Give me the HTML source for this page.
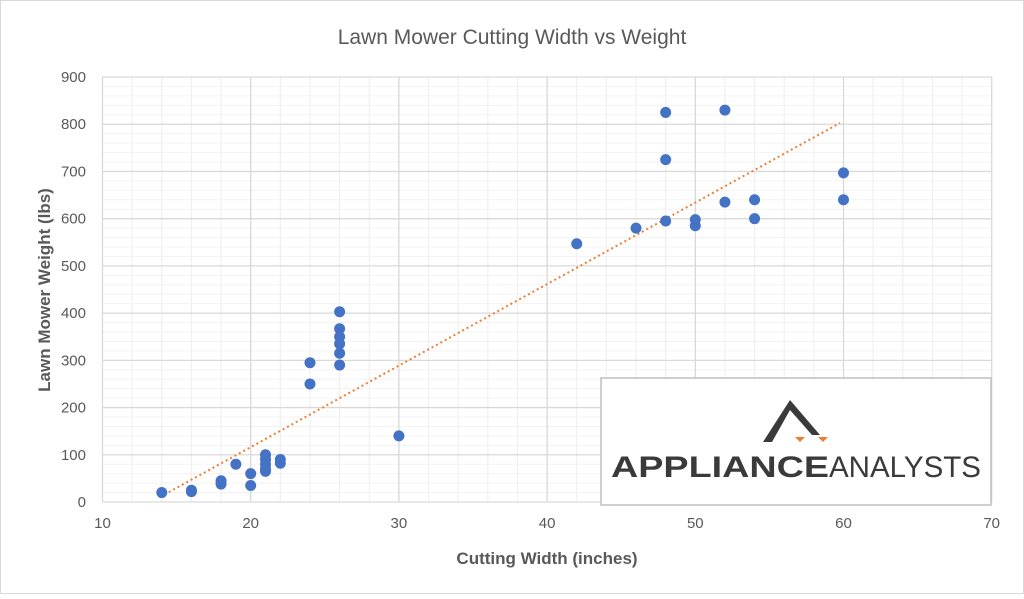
<!DOCTYPE html>
<html><head><style>
body{margin:0;background:#fff;}
svg text{font-family:"Liberation Sans",Arial,sans-serif;}
</style></head><body>
<svg width="1024" height="594" xmlns="http://www.w3.org/2000/svg">
<rect x="0.5" y="0.5" width="1023" height="593" fill="#fff" stroke="#d9d9d9"/>
<text x="512" y="44" text-anchor="middle" font-size="21" fill="#595959">Lawn Mower Cutting Width vs Weight</text>
<g id="grid"></g>
<g font-size="15" fill="#595959" text-anchor="end" id="ylab"></g>
<g font-size="15" fill="#595959" text-anchor="middle" id="xlab"></g>
<line x1="160" y1="497" x2="840" y2="123" stroke="#ed7d31" stroke-width="2" stroke-dasharray="2,3"/>
<g id="pts" fill="#4472c4"></g>
<rect x="601" y="378" width="390" height="127" fill="#fff" stroke="#bfbfbf" stroke-width="1.5"/>
<polygon points="763,442 790,400 820,435 812,435 790,410 772,442" fill="#3a3a3a"/>
<polygon points="795,437 805,437 800,442" fill="#ed7d31"/>
<polygon points="818,437 828,437 823,442" fill="#ed7d31"/>
<text x="611" y="477" font-size="30" fill="#3a3a3a" font-weight="bold" textLength="218" lengthAdjust="spacingAndGlyphs">APPLIANCE</text>
<text x="829" y="477" font-size="30" fill="#3a3a3a" textLength="152" lengthAdjust="spacingAndGlyphs">ANALYSTS</text>
<text x="547" y="564" text-anchor="middle" font-size="17" font-weight="bold" fill="#595959">Cutting Width (inches)</text>
<text transform="translate(50,290) rotate(-90)" text-anchor="middle" font-size="17" font-weight="bold" fill="#595959">Lawn Mower Weight (lbs)</text>
</svg>
<script>
const ns="http://www.w3.org/2000/svg";
const X=v=>102.5+(v-10)*14.82, Y=v=>502-v*0.4722;
const g=document.getElementById('grid');
function ln(x1,y1,x2,y2,c,w){const l=document.createElementNS(ns,'line');l.setAttribute('x1',x1);l.setAttribute('y1',y1);l.setAttribute('x2',x2);l.setAttribute('y2',y2);l.setAttribute('stroke',c);l.setAttribute('stroke-width',w);g.appendChild(l);}
for(let v=0;v<=900;v+=20){if(v%100)ln(X(10),Y(v),X(70),Y(v),'#f3f3f3',1);}
for(let v=10;v<=70;v+=2){if(v%10)ln(X(v),Y(0),X(v),Y(900),'#f0f0f0',1.2);}
for(let v=0;v<=900;v+=100)ln(X(10),Y(v),X(70),Y(v),'#d9d9d9',1.3);
for(let v=10;v<=70;v+=10)ln(X(v),Y(0),X(v),Y(900),'#d9d9d9',1.3);
const yl=document.getElementById('ylab');
for(let v=0;v<=900;v+=100){const t=document.createElementNS(ns,'text');t.setAttribute('x',86);t.setAttribute('y',Y(v)+5);t.textContent=v;yl.appendChild(t);}
const xl=document.getElementById('xlab');
for(let v=10;v<=70;v+=10){const t=document.createElementNS(ns,'text');t.setAttribute('x',X(v));t.setAttribute('y',528);t.textContent=v;xl.appendChild(t);}
const d=[[14,20],[16,25],[16,22],[18,45],[18,38],[19,80],[20,60],[20,35],[21,100],[21,90],[21,80],[21,70],[21,65],[22,90],[22,82],[24,295],[24,250],[26,403],[26,367],[26,350],[26,335],[26,315],[26,290],[30,140],[42,547],[46,580],[48,825],[48,725],[48,595],[50,598],[50,585],[52,830],[52,635],[54,640],[54,600],[60,697],[60,640]];
const p=document.getElementById('pts');
d.forEach(([a,b])=>{const c=document.createElementNS(ns,'circle');c.setAttribute('cx',X(a));c.setAttribute('cy',Y(b));c.setAttribute('r',5.5);p.appendChild(c);});
</script>
</body></html>
